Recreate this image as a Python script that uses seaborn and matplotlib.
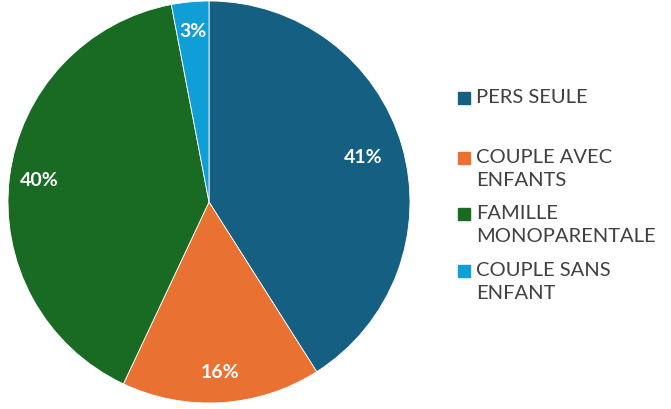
import matplotlib
matplotlib.use("Agg")
import matplotlib.pyplot as plt
import seaborn as sns
from matplotlib.patches import Rectangle

#=========================================Data==========================================
categories = ["PERS SEULE", "COUPLE AVEC\nENFANTS", "FAMILLE\nMONOPARENTALE", "COUPLE SANS\nENFANT"]
values = [41, 16, 40, 3]
colors = ["#156082", "#E97132", "#196B24", "#0F9ED5"]

#=========================================Plot==========================================
sns.set_theme(style="white")
plt.rcParams['font.family'] = ['Lato', 'DejaVu Sans']

fig = plt.figure(figsize=(6.71, 4.09), dpi=100)
ax = fig.add_axes([8/671, 6/409, 402/671, 402/409])

wedges, texts, autotexts = ax.pie(
    values, colors=colors, startangle=90, counterclock=False,
    autopct=lambda p: f"{p:.0f}%", pctdistance=0.85,
    wedgeprops=dict(edgecolor="white", linewidth=0.6),
    textprops=dict(color="white", fontsize=14, fontweight="bold"))
# le 41% est un peu plus vers l'interieur dans Excel
x0, y0 = autotexts[0].get_position()
autotexts[0].set_position((x0 * 0.8 / 0.85, y0 * 0.8 / 0.85))
ax.set_xlim(-1, 1)
ax.set_ylim(-1, 1)
ax.set_aspect("equal")

# legende manuelle (comme Excel)
leg_y = [98, 158, 214, 271]
for col, lab, y in zip(colors, categories, leg_y):
    fig.patches.append(Rectangle((458/671, 1 - (y + 6)/409), 12/671, 12/409,
                                 transform=fig.transFigure, color=col, figure=fig))
    fig.text(476/671, 1 - (y - 9)/409, lab, fontsize=14.5, color="#404040",
             va="top", ha="left", linespacing=1.4)

fig.savefig("out.png", dpi=100)
